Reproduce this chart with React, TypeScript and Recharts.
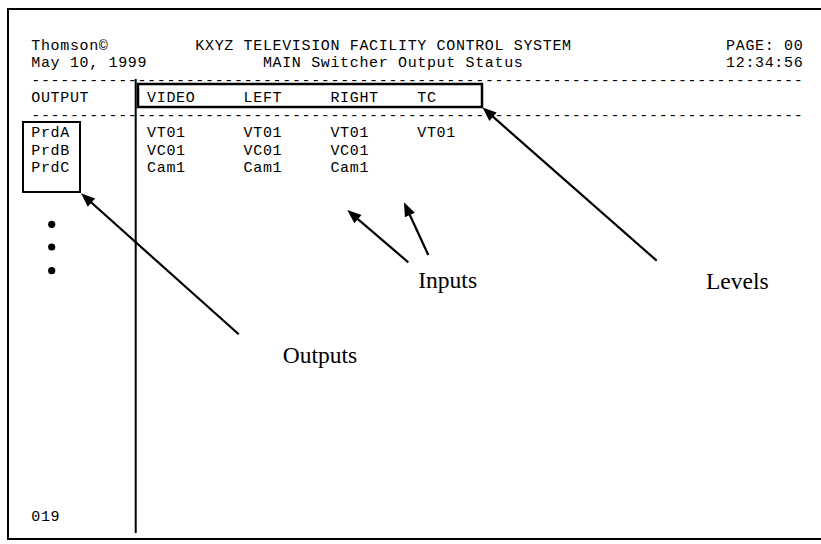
import React from "react";
import {
  ScatterChart,
  Scatter,
  XAxis,
  YAxis,
  ReferenceArea,
  ReferenceLine,
  ReferenceDot,
} from "recharts";

// terminal screen content
const titleLeft = ["Thomson©", "May 10, 1999"];
const titleCenter = ["KXYZ TELEVISION FACILITY CONTROL SYSTEM", "MAIN Switcher Output Status"];
const titleRight = ["PAGE: 00", "12:34:56"];
const outputHeader = "OUTPUT";
const levels = ["VIDEO", "LEFT", "RIGHT", "TC"];
const outputs = ["PrdA", "PrdB", "PrdC"];
const routedInputs = [
  ["VT01", "VT01", "VT01", "VT01"],
  ["VC01", "VC01", "VC01"],
  ["Cam1", "Cam1", "Cam1"],
];
const pageNumber = "019";

// callout labels
const callouts = ["Outputs", "Inputs", "Levels"];

// screen grid layout (columns / rows of the 80 column terminal)
const SCREEN_COLS = 80;
const centerCols = [17, 24];
const rightCol = 72;
const levelCols = [12, 22, 31, 40];
const firstOutputRow = 5;
const footerRow = 27;

// annotation geometry, in pixels of the drawing
const frame = { x1: 8, y1: 9, x2: 824, y2: 539 };
const outputBox = { x1: 23, y1: 122, x2: 80, y2: 192 };
const levelBox = { x1: 138, y1: 84, x2: 482, y2: 107 };
const divider = [{ x: 135.7, y: 79 }, { x: 135.7, y: 533 }];
const bullets = [224.3, 247, 270.7];
const arrows = [
  [{ x: 238.7, y: 334.3 }, { x: 81, y: 193.3 }],
  [{ x: 408.3, y: 262.3 }, { x: 347.3, y: 210 }],
  [{ x: 428.3, y: 255 }, { x: 404, y: 202.3 }],
  [{ x: 656.7, y: 260.7 }, { x: 482.5, y: 107.5 }],
];
const calloutPos = [
  { x: 282.7, y: 362.7 },
  { x: 418.3, y: 288.3 },
  { x: 706, y: 289 },
];

const W = 821;
const H = 544;
const COL_PX = 9.65;
const ROW_PX = 17.45;
const ORIGIN_X = 31.3;
const ORIGIN_Y = 50;

// split a line into words placed at their column
function words(line: string, startCol: number, row: number) {
  const out: { x: number; y: number; text: string }[] = [];
  const re = /\S+/g;
  let m: RegExpExecArray | null;
  while ((m = re.exec(line)) !== null) {
    out.push({ x: startCol + m.index, y: row, text: m[0] });
  }
  return out;
}

const dashes = "-".repeat(SCREEN_COLS);
const screenText = [
  ...titleLeft.flatMap((t, i) => words(t, 0, i)),
  ...titleCenter.flatMap((t, i) => words(t, centerCols[i], i)),
  ...titleRight.flatMap((t, i) => words(t, rightCol, i)),
  { x: 0, y: 2, text: dashes },
  { x: 0, y: 3, text: outputHeader },
  ...levels.map((t, i) => ({ x: levelCols[i], y: 3, text: t })),
  { x: 0, y: 4, text: dashes },
  ...outputs.map((t, i) => ({ x: 0, y: firstOutputRow + i, text: t })),
  ...routedInputs.flatMap((row, r) =>
    row.map((t, i) => ({ x: levelCols[i], y: firstOutputRow + r, text: t }))
  ),
  { x: 0, y: footerRow, text: pageNumber },
];

const calloutText = callouts.map((t, i) => ({ ...calloutPos[i], text: t }));

// 15px mono glyphs spaced out to the 9.65px terminal pitch
const MonoText = (props: any) => (
  <text
    x={props.cx}
    y={props.cy}
    fill="#000"
    fontFamily="'Liberation Mono', 'Courier New', monospace"
    fontSize={15}
    letterSpacing={0.65}
  >
    {props.payload.text}
  </text>
);

const SerifText = (props: any) => (
  <text
    x={props.cx}
    y={props.cy}
    fill="#000"
    fontFamily="'Liberation Serif', 'Times New Roman', serif"
    fontSize={23.5}
  >
    {props.payload.text}
  </text>
);

const Arrow = (props: any) => {
  const { x1, y1, x2, y2 } = props;
  const len = Math.hypot(x2 - x1, y2 - y1);
  const ux = (x2 - x1) / len;
  const uy = (y2 - y1) / len;
  const head = 14;
  const half = 5.5;
  const bx = x2 - ux * head;
  const by = y2 - uy * head;
  const pts = [
    [x2, y2],
    [bx - uy * half, by + ux * half],
    [bx + uy * half, by - ux * half],
  ]
    .map((p) => p.join(","))
    .join(" ");
  return (
    <g>
      <line x1={x1} y1={y1} x2={bx + ux * 2} y2={by + uy * 2} stroke="#000" strokeWidth={2.2} />
      <polygon points={pts} fill="#000" />
    </g>
  );
};

export default function App() {
  return (
    <div style={{ position: "absolute", left: 0, top: 0, background: "#fff" }}>
      <ScatterChart width={W} height={H} margin={{ top: 0, right: 0, bottom: 0, left: 0 }}>
        <XAxis
          xAxisId="col"
          type="number"
          dataKey="x"
          hide
          allowDataOverflow
          domain={[-ORIGIN_X / COL_PX, (W - ORIGIN_X) / COL_PX]}
        />
        <YAxis
          yAxisId="row"
          type="number"
          dataKey="y"
          hide
          reversed
          allowDataOverflow
          domain={[-ORIGIN_Y / ROW_PX, (H - ORIGIN_Y) / ROW_PX]}
        />
        <XAxis xAxisId="px" type="number" dataKey="x" hide allowDataOverflow domain={[0, W]} />
        <YAxis yAxisId="px" type="number" dataKey="y" hide reversed allowDataOverflow domain={[0, H]} />

        <ReferenceArea
          xAxisId="px"
          yAxisId="px"
          {...frame}
          fill="none"
          stroke="#000"
          strokeWidth={2}
          ifOverflow="visible"
        />
        <ReferenceArea xAxisId="px" yAxisId="px" {...outputBox} fill="none" stroke="#000" strokeWidth={2} />
        <ReferenceArea xAxisId="px" yAxisId="px" {...levelBox} fill="none" stroke="#000" strokeWidth={2.5} />
        <ReferenceLine xAxisId="px" yAxisId="px" segment={divider} stroke="#000" strokeWidth={2} />
        {arrows.map((seg, i) => (
          <ReferenceLine key={i} xAxisId="px" yAxisId="px" segment={seg} shape={Arrow} />
        ))}
        {bullets.map((y, i) => (
          <ReferenceDot key={i} xAxisId="px" yAxisId="px" x={51.7} y={y} r={3.6} fill="#000" stroke="none" />
        ))}

        <Scatter
          xAxisId="col"
          yAxisId="row"
          data={screenText}
          shape={MonoText}
          isAnimationActive={false}
        />
        <Scatter
          xAxisId="px"
          yAxisId="px"
          data={calloutText}
          shape={SerifText}
          isAnimationActive={false}
        />
      </ScatterChart>
    </div>
  );
}
